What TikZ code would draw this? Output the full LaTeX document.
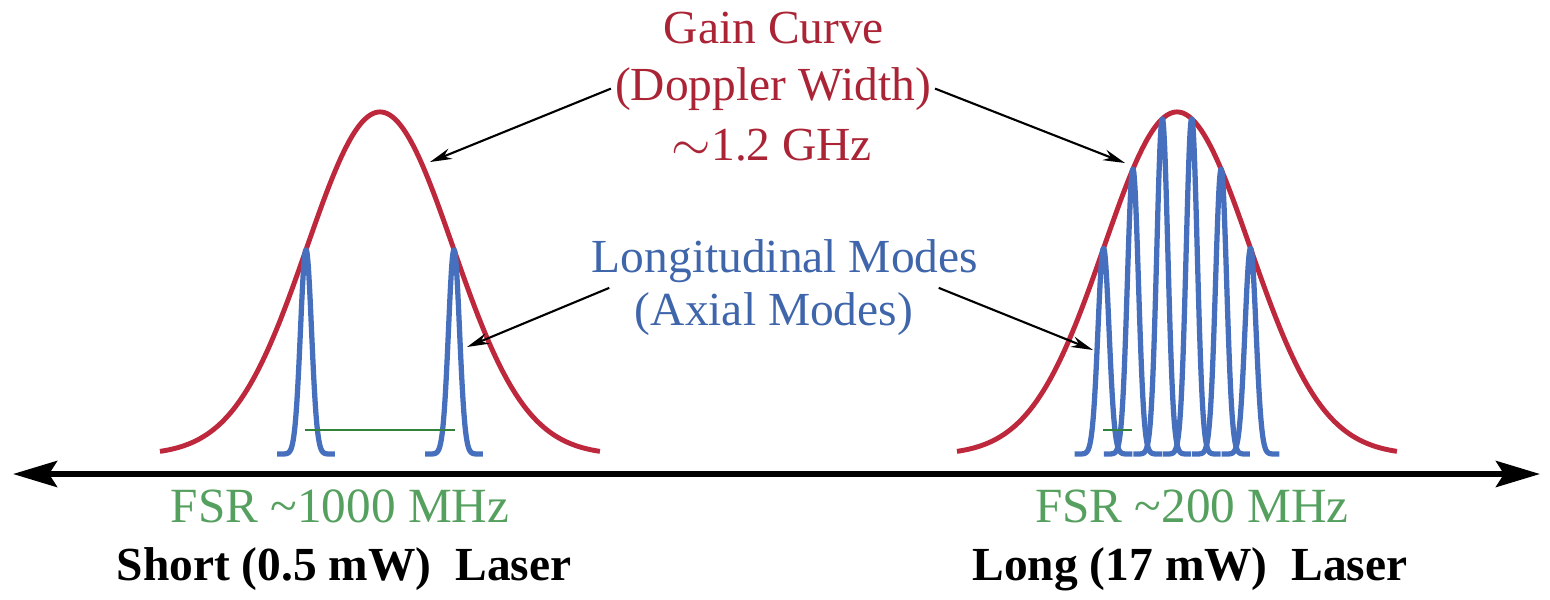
\documentclass[tikz,border=0pt]{standalone}
\usepackage{fontspec}
\setmainfont{Liberation Serif}
\newfontfamily\labelfont{Liberation Serif}
\usetikzlibrary{arrows.meta}

\definecolor{gainred}{RGB}{190,40,60}
\definecolor{modeblue}{RGB}{70,112,190}
\definecolor{fsrgreen}{RGB}{85,160,95}
\definecolor{fsrline}{RGB}{50,130,60}

\begin{document}
\begin{tikzpicture}[>=Stealth,
  declare function={gain(\x)=1.44+3.43*exp(-(\x)^2/1.066);},
  gaincurve/.style={line width=1.4pt, gainred},
  modecurve/.style={line width=1.5pt, modeblue, line join=round},
  fsrbar/.style={line width=0.7pt, fsrline},
  axisline/.style={line width=1.7pt, black},
  callout/.style={line width=0.6pt, -{Stealth[length=2.2mm, width=1.1mm]}},
  gaintext/.style={font=\labelfont\fontsize{13.5}{16}\selectfont, text=gainred!90!black, inner sep=1pt},
  modetext/.style={font=\labelfont\fontsize{13.5}{16}\selectfont, text=modeblue!90!black, inner sep=1pt},
  fsrtext/.style={font=\labelfont\fontsize{14}{16}\selectfont, text=fsrgreen, inner sep=1pt},
  lasertext/.style={font=\labelfont\fontsize{13.5}{16}\selectfont\bfseries, inner sep=1pt}]

\useasboundingbox (0,0) rectangle (15.5,5.99);

% --- Frequency axis ---
\draw[axisline, {Stealth[length=4.4mm, width=2.6mm, inset=0.8mm]}-{Stealth[length=4.4mm, width=2.6mm, inset=0.8mm]}]
  (0.13, 1.25) -- (15.40, 1.25);

% --- Gain curves (short and long laser) ---
\draw[gaincurve] plot[domain=-2.2:2.2, samples=100, smooth] ({3.80+\x}, {gain(\x)});
\draw[gaincurve] plot[domain=-2.2:2.2, samples=100, smooth] ({11.77+\x}, {gain(\x)});

% --- Longitudinal modes, short laser (FSR = 0.74) ---
\foreach \m in {-0.74, 0.74} {
  \draw[modecurve] plot[domain=-0.29:0.29, samples=117]
    ({3.80+\m+\x}, {1.45+(gain(\m)-1.45)*exp(-(\x)^2/0.0061)});
}

% --- Longitudinal modes, long laser (FSR = 0.294) ---
\foreach \m in {-0.735, -0.441, -0.147, 0.147, 0.441, 0.735} {
  \draw[modecurve] plot[domain=-0.29:0.29, samples=117]
    ({11.77+\m+\x}, {1.45+(gain(\m)-1.45)*exp(-(\x)^2/0.0061)});
}

% --- FSR bars ---
\draw[fsrbar] (3.05, 1.69) -- (4.55, 1.69);
\draw[fsrbar] (11.03, 1.69) -- (11.32, 1.69);

% --- Gain curve label ---
\node[gaintext, anchor=base] (gain1) at (7.74, 5.56) {Gain Curve};
\node[gaintext, anchor=base] (gain2) at (7.73, 4.99) {(Doppler Width)};
\node[gaintext, anchor=base] (gain3) at (7.72, 4.39) {$\sim$1.2 GHz};

% --- Mode label ---
\node[modetext, anchor=base] (modes1) at (7.85, 3.27) {Longitudinal Modes};
\node[modetext, anchor=base, inner xsep=2.5mm] (modes2) at (7.74, 2.74) {(Axial Modes)};

% --- Callout arrows ---
\coordinate (gainTipL) at (4.30, 4.37);
\coordinate (gainTipR) at (11.25, 4.36);
\coordinate (modeTipL) at (4.67, 2.52);
\coordinate (modeTipR) at (10.93, 2.49);
\draw[callout] (gain2.west) -- (gainTipL);
\draw[callout] (gain2.east) -- (gainTipR);
\draw[callout] (modes2.north west) -- (modeTipL);
\draw[callout] (modes2.north east) -- (modeTipR);

% --- FSR and laser labels ---
\node[fsrtext, anchor=base] (fsrL) at (3.40, 0.77) {FSR \textasciitilde1000 MHz};
\node[fsrtext, anchor=base] (fsrR) at (11.92, 0.77) {FSR \textasciitilde200 MHz};
\node[lasertext, anchor=base] (laserL) at (3.44, 0.19) {Short (0.5 mW)\ \ Laser};
\node[lasertext, anchor=base] (laserR) at (11.90, 0.19) {Long (17 mW)\ \ Laser};

\end{tikzpicture}
\end{document}
